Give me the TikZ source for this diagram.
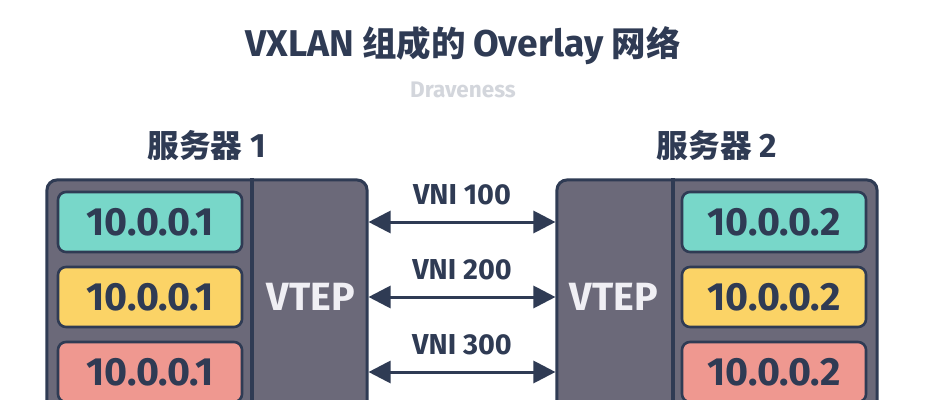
\documentclass[tikz,border=0pt]{standalone}
\usepackage{fontspec}
\setmainfont{Fira Sans}
\newfontfamily\cjk{Noto Sans CJK SC}
\usetikzlibrary{calc,arrows.meta}

\definecolor{navy}{HTML}{2F3B54}
\definecolor{slate}{HTML}{6B6979}
\definecolor{teal}{HTML}{78D7C9}
\definecolor{sun}{HTML}{FBD366}
\definecolor{rose}{HTML}{EF9890}
\definecolor{mist}{HTML}{D3D6DC}
\definecolor{vtxt}{HTML}{F0EFF4}

\newcommand{\zh}[2]{{\cjk\bfseries\fontsize{#1}{#1}\selectfont #2}}

\begin{document}
\begin{tikzpicture}[x=0.025cm,y=-0.025cm,
  server/.style={draw=navy,fill=slate,line width=0.075cm,rounded corners=0.25cm,
    minimum width=8cm,minimum height=7cm},
  wall/.style={draw=navy,line width=0.1cm},
  ipbox/.style={draw=navy,line width=0.065cm,rounded corners=0.2cm,minimum width=4.6cm,
    minimum height=1.5cm,text=navy,font=\bfseries\fontsize{28}{30}\selectfont},
  vtep/.style={text=vtxt,font=\bfseries\fontsize{28}{30}\selectfont},
  head/.style={text=navy,anchor=base,font=\bfseries\fontsize{24}{28}\selectfont},
  link/.style={draw=navy,line width=0.075cm,
    {Triangle[length=0.55cm,width=0.55cm]}-{Triangle[length=0.55cm,width=0.55cm]}},
  vni/.style={text=navy,inner sep=0pt,above=0.38cm,font=\bfseries\fontsize{20.5}{24}\selectfont}]

  \path[use as bounding box,fill=white] (0,0) rectangle (925,400);
  \clip (0,0) rectangle (925,400);

  % title
  \node[anchor=base,text=navy,font=\bfseries\fontsize{26.5}{32}\selectfont] (T) at (463,57)
    {VXLAN\hspace{0.22em}\zh{24.5}{组成的}\hspace{0.2em}Overlay\hspace{0.22em}\zh{24.5}{网络}};
  \node[anchor=base,text=mist,font=\bfseries\fontsize{16}{20}\selectfont] (D) at ($(T.base)+(0,41)$) {Draveness};

  % servers
  \node[server] (S1) at (207,320) {};
  \node[server] (S2) at (717,320) {};
  \draw[wall] ($(S1.north west)+(207,0)$) -- ($(S1.south west)+(207,0)$);
  \draw[wall] ($(S2.north east)+(-206,0)$) -- ($(S2.south east)+(-206,0)$);

  \node[head] (H1) at ($(S1)+(0,-163)$) {\zh{22.5}{服务器} 1};
  \node[head] (H2) at ($(S2)+(0,-163)$) {\zh{22.5}{服务器} 2};

  % left addresses
  \node[ipbox,fill=teal] (A1) at (150,222) {10.0.0.1};
  \node[ipbox,fill=sun] (A2) at ($(A1)+(0,75)$) {10.0.0.1};
  \node[ipbox,fill=rose] (A3) at ($(A2)+(0,75)$) {10.0.0.1};
  % right addresses
  \node[ipbox,fill=teal] (B1) at (774,222) {10.0.0.2};
  \node[ipbox,fill=sun] (B2) at ($(B1)+(0,75)$) {10.0.0.2};
  \node[ipbox,fill=rose] (B3) at ($(B2)+(0,75)$) {10.0.0.2};

  \node[vtep] (V1) at (311,297) {VTEP};
  \node[vtep] (V2) at (614,297) {VTEP};

  \path (S1.east |- A1) edge[link] node[vni] {VNI 100} (S2.west |- B1);
  \path (S1.east |- A2) edge[link] node[vni] {VNI 200} (S2.west |- B2);
  \path (S1.east |- A3) edge[link] node[vni] {VNI 300} (S2.west |- B3);
\end{tikzpicture}
\end{document}
